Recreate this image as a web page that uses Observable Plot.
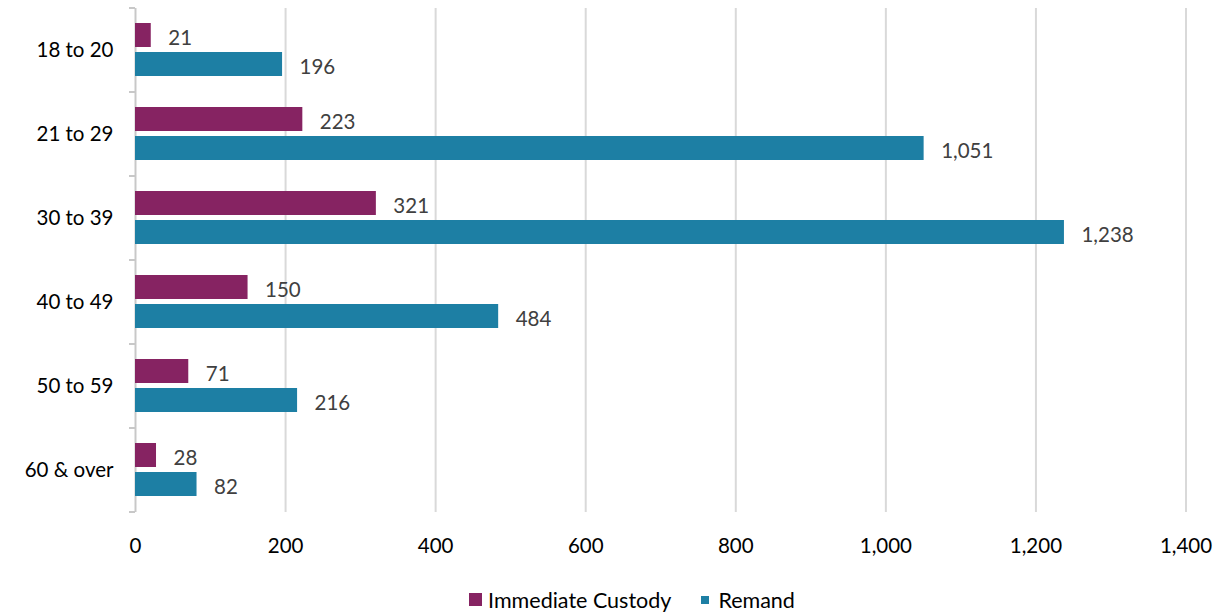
<!DOCTYPE html>
<html>
<head>
<meta charset="utf-8">
<script src="https://cdn.jsdelivr.net/npm/d3@7"></script>
<script src="https://cdn.jsdelivr.net/npm/@observablehq/plot@0.6"></script>
<style>
  body { margin: 0; background: #fff; font-family: Lato, "Open Sans", sans-serif; }
  #chart svg { display: block; }
  .legend { width: 1224px; box-sizing: border-box; padding-left: 40px; padding-top: 8px; display: flex; justify-content: center; align-items: center; font-size: 21.5px; color: #000; height: 35px; }
  .legend .item { display: flex; align-items: center; }
  .legend .sw { display: inline-block; margin-right: 6px; }
</style>
</head>
<body>
<div id="chart"></div>
<div class="legend" id="legend"></div>
<script>
const categories = ["18 to 20", "21 to 29", "30 to 39", "40 to 49", "50 to 59", "60 & over"];
const custody = [21, 223, 321, 150, 71, 28];
const remand = [196, 1051, 1238, 484, 216, 82];
const series = ["Immediate Custody", "Remand"];
const colors = ["#862362", "#1d7fa4"];
const xTicks = [0, 200, 400, 600, 800, 1000, 1200, 1400];

const data = categories.flatMap((c, i) => [
  {cat: c, series: series[0], value: custody[i]},
  {cat: c, series: series[1], value: remand[i]}
]);
const fmt = d3.format(",");

const chart = Plot.plot({
  width: 1224,
  height: 578,
  marginLeft: 135,
  marginRight: 38.5,
  marginTop: 8,
  marginBottom: 66,
  style: {fontFamily: "Lato, 'Open Sans', sans-serif", fontSize: "20.5px", color: "#000", background: "#fff"},
  x: {domain: [0, 1400], ticks: xTicks, tickFormat: d => fmt(d), tickSize: 0, tickPadding: 26, label: null},
  fy: {domain: categories, padding: 0, label: null, axis: "left", tickSize: 0, tickPadding: 22},
  y: {domain: series, paddingInner: 0.17, paddingOuter: 0.51, axis: null},
  color: {domain: series, range: colors},
  marks: [
    Plot.ruleX(xTicks.slice(1), {stroke: "#d9d9d9", strokeWidth: 2, strokeOpacity: 1}),
    Plot.ruleX([0], {stroke: "#c8c8c8", strokeWidth: 2, strokeOpacity: 1}),
    Plot.barX(data, {x: "value", y: "series", fy: "cat", fill: "series"}),
    Plot.text(data, {x: "value", y: "series", fy: "cat", text: d => fmt(d.value), textAnchor: "start", dx: 17, dy: 3, fill: "#404040", fontSize: 20.5})
  ]
});
document.getElementById("chart").appendChild(chart);

// small category-boundary ticks on the left axis, from the fy scale
const fyS = chart.scale("fy");
const band = d3.scaleBand(fyS.domain, fyS.range).paddingInner(0).paddingOuter(0);
const xS = chart.scale("x");
const x0 = d3.scaleLinear(xS.domain, xS.range)(0);
const bounds = categories.map(c => band(c)).concat([band(categories[categories.length - 1]) + band.bandwidth()]);
d3.select(chart).append("g")
  .attr("stroke", "#c8c8c8").attr("stroke-width", 2)
  .selectAll("line").data(bounds).join("line")
  .attr("x1", x0 - 6).attr("x2", x0).attr("y1", d => d).attr("y2", d => d);

const legend = document.getElementById("legend");
const sizes = [13, 8];
series.forEach((s, i) => {
  const item = document.createElement("span");
  item.className = "item";
  if (i > 0) item.style.marginLeft = "30px";
  const sw = document.createElement("span");
  sw.className = "sw";
  sw.style.width = sizes[i] + "px";
  sw.style.height = sizes[i] + "px";
  sw.style.background = colors[i];
  if (i > 0) sw.style.marginRight = "9px";
  item.appendChild(sw);
  item.appendChild(document.createTextNode(s));
  legend.appendChild(item);
});
</script>
</body>
</html>
